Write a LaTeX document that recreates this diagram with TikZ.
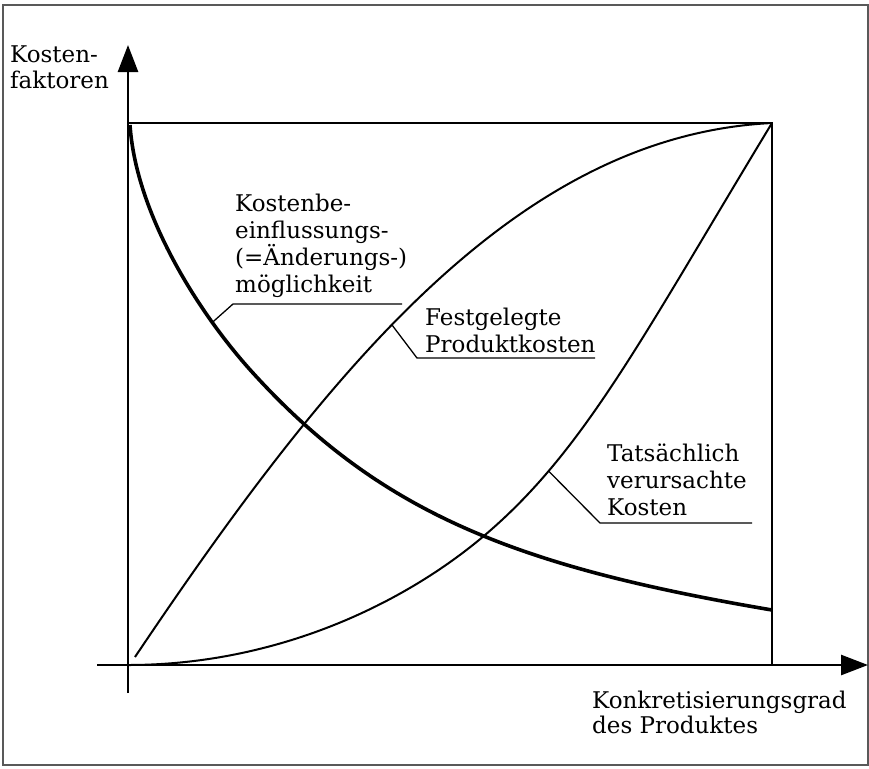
\documentclass[tikz,border=0pt]{standalone}
\usepackage{fontspec}
\setmainfont{DejaVu Serif}
\usetikzlibrary{positioning, arrows.meta}

\begin{document}
\begin{tikzpicture}[x=1pt,y=-1pt]
  % Styles for axes, curves and leader lines
  \tikzstyle{axis}=[line width=2.6pt, -{Triangle[length=27pt,width=20pt]}]
  \tikzstyle{thin curve}=[line width=2pt]
  \tikzstyle{thick curve}=[line width=3.6pt]
  \tikzstyle{leader}=[line width=1.3pt]
  \tikzstyle{label}=[anchor=base west, inner sep=0pt, align=left,
                     font=\fontsize{23}{26.8}\selectfont]
  \tikzstyle{axis label}=[label, font=\fontsize{23}{25}\selectfont]

  \useasboundingbox (0,0) rectangle (869,768);

  % Frame round the picture
  \draw[gray!70!black, line width=1.3pt] (3,5) rectangle (868,765);

  % Origin and upper right corner
  \coordinate (O) at (128,665);
  \coordinate (E) at (772,123);

  % Draw the axes
  \draw[axis] (O |- 0,693) -- (O |- 0,45);
  \draw[axis] (97,665) -- (868,665);
  \draw[thin curve] (O |- E) -- (E) -- (E |- O);

  % Kostenbeeinflussungsmoeglichkeit
  \draw[thick curve] (130,125) .. controls (136,215) and (200,315) .. (253,373)
    coordinate[pos=0.75] (kb curve)
    .. controls (383,516) and (522,567.5) .. (772,610);

  % Festgelegte Produktkosten
  \draw[thin curve] (135,657) .. controls (335,359) and (522,135.5) .. (E)
    coordinate[pos=0.43] (fp curve);

  % Tatsaechlich verursachte Kosten
  \draw[thin curve] (O) .. controls (278,665) and (405,603) .. (485,535)
    .. controls (585,450) and (642,337.5) .. (E)
    coordinate[pos=0.23] (tv curve);

  % Axis labels
  \node[axis label] (ylabel) at (10,88) {Kosten-\\faktoren};
  \node[axis label] (xlabel) at (592,733) {Konkretisierungsgrad\\des Produktes};

  % Curve labels
  \node[label] (kb) at (235,292) {Kostenbe-\\einflussungs-\\(=Änderungs-)\\möglichkeit};
  \node[label] (fp) at (425,352) {Festgelegte\\Produktkosten};
  \node[label] (tv) at (607,515) {Tatsächlich\\verursachte\\Kosten};

  % Leader lines from the curves to the labels
  \coordinate (kb knee) at (233,304);
  \coordinate (kb end) at (402,304);
  \coordinate (fp knee) at (417,358);
  \coordinate (fp end) at (595,358);
  \coordinate (tv knee) at (600,523);
  \coordinate (tv end) at (752,523);
  \draw[leader] (kb curve) -- (kb knee) -- (kb end);
  \draw[leader] (fp curve) -- (fp knee) -- (fp end);
  \draw[leader] (tv curve) -- (tv knee) -- (tv end);
\end{tikzpicture}
\end{document}
